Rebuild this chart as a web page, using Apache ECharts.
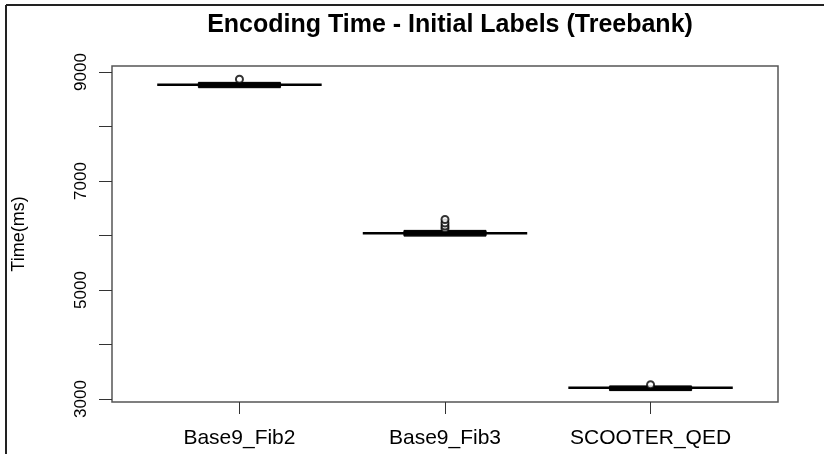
<!DOCTYPE html>
<html>
<head>
<meta charset="utf-8">
<style>
  html, body { margin: 0; padding: 0; background: #fff; }
  #chart { width: 824px; height: 454px; }
</style>
</head>
<body>
<div id="chart"></div>
<script src="https://cdn.jsdelivr.net/npm/echarts@6/dist/echarts.min.js"></script>
<script>
    // data (ms)
    var categories = ['Base9_Fib2', 'Base9_Fib3', 'SCOOTER_QED'];
    // [lower whisker, Q1, median, Q3, upper whisker]
    var statsFib2 = [8712, 8719, 8767, 8804, 8810];
    var statsFib3 = [5990, 5996, 6040, 6088, 6094];
    var statsQed = [3154, 3160, 3207, 3233, 3239];
    var outliersFib2 = [8866];
    var outliersFib3 = [6128, 6174, 6229, 6294];
    var outliersQed = [3262];
    var yTicks = [3000, 4000, 5000, 6000, 7000, 8000, 9000];
    var yLabels = [3000, 5000, 7000, 9000];
    var xTicks = [1, 2, 3];

    var allStats = [statsFib2, statsFib3, statsQed];
    var allOutliers = [outliersFib2, outliersFib3, outliersQed];

    var boxData = [];
    var outlierData = [];
    for (var i = 0; i < categories.length; i++) {
        boxData.push([i + 1].concat(allStats[i]));
        allOutliers[i].forEach(function (v) {
            outlierData.push([i + 1, v]);
        });
    }

    // R style box: wide median line, narrow filled box, whiskers with caps
    function renderBox(params, api) {
        var x = api.value(0);
        var lo = api.coord([x, api.value(1)]);
        var q1 = api.coord([x, api.value(2)]);
        var med = api.coord([x, api.value(3)]);
        var q3 = api.coord([x, api.value(4)]);
        var hi = api.coord([x, api.value(5)]);
        var unit = api.size([1, 0])[0];
        var wide = unit * 0.8 / 2;
        var narrow = unit * 0.4 / 2;
        var cx = med[0];
        var black = '#000';
        return {
            type: 'group',
            children: [
                { type: 'line', shape: { x1: cx, y1: q1[1], x2: cx, y2: lo[1] }, style: { stroke: black, lineWidth: 1 } },
                { type: 'line', shape: { x1: cx, y1: q3[1], x2: cx, y2: hi[1] }, style: { stroke: black, lineWidth: 1 } },
                { type: 'line', shape: { x1: cx - narrow, y1: lo[1], x2: cx + narrow, y2: lo[1] }, style: { stroke: black, lineWidth: 1 } },
                { type: 'line', shape: { x1: cx - narrow, y1: hi[1], x2: cx + narrow, y2: hi[1] }, style: { stroke: black, lineWidth: 1 } },
                { type: 'rect', shape: { x: cx - narrow, y: q3[1], width: narrow * 2, height: q1[1] - q3[1] }, style: { fill: black, stroke: black, lineWidth: 1 } },
                { type: 'line', shape: { x1: cx - wide, y1: med[1], x2: cx + wide, y2: med[1] }, style: { stroke: black, lineWidth: 2.5 } }
            ]
        };
    }

    var myChart = echarts.init(document.getElementById('chart'));

    var option = {
        backgroundColor: '#fff',
        animation: false,
        title: {
            text: 'Encoding Time - Initial Labels (Treebank)',
            left: 445,
            textAlign: 'center',
            top: 8,
            textStyle: {
                fontFamily: 'Liberation Sans',
                fontWeight: 'bold',
                fontSize: 25,
                color: '#000'
            }
        },
        grid: {
            left: 112,
            right: 46,
            top: 66,
            bottom: 52,
            show: true,
            borderColor: '#555',
            borderWidth: 1.5
        },
        xAxis: {
            type: 'value',
            min: 0.38,
            max: 3.62,
            splitLine: { show: false },
            axisLine: { show: false },
            axisTick: {
                show: true,
                length: 12,
                lineStyle: { color: '#333' },
                customValues: xTicks
            },
            axisLabel: {
                customValues: xTicks,
                margin: 26,
                fontFamily: 'Liberation Sans',
                fontSize: 21,
                color: '#000',
                formatter: function (v) { return categories[Math.round(v) - 1]; }
            }
        },
        yAxis: {
            type: 'value',
            min: 2945,
            max: 9110,
            name: 'Time(ms)',
            nameLocation: 'middle',
            nameRotate: 90,
            nameGap: 84,
            nameTextStyle: {
                fontFamily: 'Liberation Sans',
                fontSize: 18,
                color: '#000'
            },
            splitLine: { show: false },
            axisLine: { show: false },
            axisTick: {
                show: true,
                length: 13,
                lineStyle: { color: '#333' },
                customValues: yTicks
            },
            axisLabel: {
                customValues: yLabels,
                rotate: 90,
                margin: 22,
                fontFamily: 'Liberation Sans',
                fontSize: 17,
                color: '#000',
                formatter: function (v) { return String(v); }
            }
        },
        graphic: [
            { type: 'line', shape: { x1: 6, y1: 5, x2: 824, y2: 5 }, style: { stroke: '#222', lineWidth: 2 } },
            { type: 'line', shape: { x1: 6, y1: 5, x2: 6, y2: 454 }, style: { stroke: '#222', lineWidth: 2 } }
        ],
        series: [
            {
                name: 'box',
                type: 'custom',
                renderItem: renderBox,
                data: boxData,
                encode: { x: 0, y: [1, 2, 3, 4, 5] },
                z: 2
            },
            {
                name: 'outliers',
                type: 'scatter',
                data: outlierData,
                symbol: 'emptyCircle',
                symbolSize: 7,
                itemStyle: { color: '#000', borderColor: '#000', borderWidth: 1.5 },
                z: 3
            }
        ]
    };

    myChart.setOption(option);
</script>
</body>
</html>
